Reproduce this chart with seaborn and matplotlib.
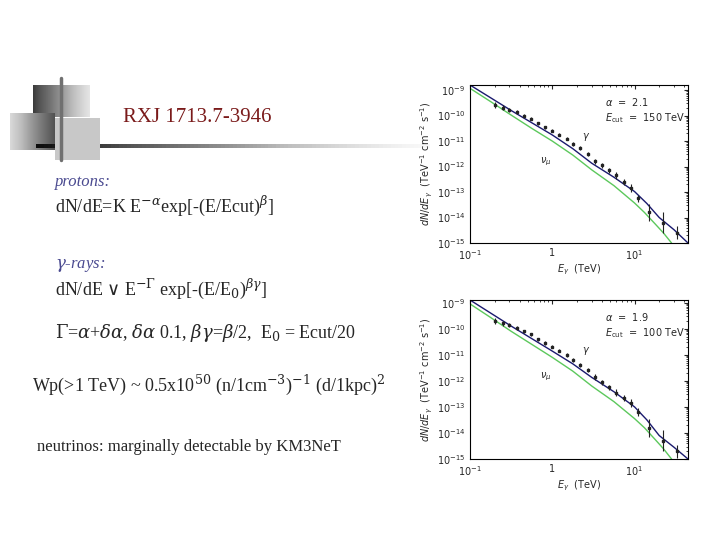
import numpy as np
import pandas as pd
import seaborn as sns
import matplotlib.pyplot as plt
from matplotlib.patches import Rectangle

# --- dane: krzywe (log10 E, log10 dN/dE) ---
curve_logx = [-1.0, -0.75, -0.5, -0.25, 0.0, 0.25, 0.48, 0.75, 1.0, 1.15, 1.3, 1.48, 1.65]
gam1 = [-8.8, -9.3, -9.8, -10.28, -10.76, -11.3, -11.87, -12.42, -12.98, -13.45, -14.0, -14.48, -15.0]
nu1_logx = [-1.0, -0.75, -0.5, -0.25, 0.0, 0.25, 0.48, 0.75, 1.0, 1.12, 1.25, 1.35, 1.45]
nu1 = [-8.93, -9.45, -9.98, -10.5, -11.0, -11.55, -12.13, -12.75, -13.43, -13.8, -14.25, -14.6, -15.0]
gam2 = [-8.9, -9.4, -9.9, -10.38, -10.86, -11.35, -11.87, -12.42, -13.0, -13.5, -14.1, -14.55, -15.0]
nu2 = [-9.05, -9.57, -10.1, -10.6, -11.1, -11.63, -12.2, -12.8, -13.45, -13.8, -14.25, -14.6, -15.0]

# punkty pomiarowe
pts_x = [0.2, 0.25, 0.3, 0.37, 0.45, 0.55, 0.67, 0.82, 1.0, 1.2, 1.5, 1.8,
         2.2, 2.7, 3.3, 4.0, 4.9, 6.0, 7.4, 9.0, 11, 15, 22, 33]
pts_y1 = [-9.6, -9.7, -9.78, -9.87, -10.0, -10.12, -10.3, -10.45, -10.6, -10.75,
          -10.9, -11.12, -11.28, -11.5, -11.8, -11.95, -12.15, -12.35, -12.6,
          -12.85, -13.25, -13.8, -14.2, -14.6]
pts_y2 = [-9.7, -9.8, -9.85, -9.98, -10.1, -10.22, -10.4, -10.55, -10.7, -10.85,
          -11.0, -11.2, -11.38, -11.6, -11.85, -12.05, -12.25, -12.45, -12.65,
          -12.85, -13.2, -13.8, -14.3, -14.7]
pts_err = [0.12, 0.1, 0.08, 0.07, 0.06, 0.06, 0.06, 0.06, 0.06, 0.06, 0.07, 0.07,
           0.08, 0.08, 0.1, 0.1, 0.1, 0.12, 0.12, 0.15, 0.15, 0.35, 0.4, 0.25]

panels = [
    dict(gam=gam1, nu=nu1, pts=pts_y1, alpha="2.1", ecut="150", top=-8.8,
         rect=[470 / 720, 1 - 243 / 540, 218 / 720, 158 / 540]),
    dict(gam=gam2, nu=nu2, pts=pts_y2, alpha="1.9", ecut="100", top=-8.9,
         rect=[470 / 720, 1 - 459 / 540, 218 / 720, 159 / 540]),
]

sns.set_style("white")
plt.rcParams["font.family"] = ["Liberation Serif", "DejaVu Serif"]
plt.rcParams["mathtext.fontset"] = "dejavuserif"

fig = plt.figure(figsize=(7.2, 5.4), dpi=100)

# --- tło / dekoracja w pikselach ---
bg = fig.add_axes([0, 0, 1, 1])
bg.set_xlim(0, 720)
bg.set_ylim(540, 0)
bg.axis("off")
grad = np.linspace(0, 1, 100).reshape(1, -1)
bg.imshow(grad, cmap="Greys_r", extent=[33, 90, 117, 85], vmin=-0.3, vmax=1.3, aspect="auto")
bg.imshow(grad, cmap="Greys", extent=[10, 55, 150, 113], vmin=-0.5, vmax=1.5, aspect="auto")
bg.add_patch(Rectangle((55, 118), 45, 42, color="#c8c8c8", lw=0))
bg.imshow(grad[:, ::-1], cmap="Greys", extent=[36, 430, 148, 144], vmin=-0.05, vmax=1.05, aspect="auto")
bg.plot([61, 61], [78, 160], color="#707070", lw=2.5)
bg.set_xlim(0, 720)
bg.set_ylim(540, 0)

red = "#7a1a1a"
blue = "#4a4a90"
bg.text(123, 118, "RXJ 1713.7-3946", color=red, fontsize=15, va="center")
bg.text(55, 182, "protons:", color=blue, style="italic", fontsize=12, va="center")
bg.text(55, 206, r"dN/dE=K E$^{-\alpha}$exp[-(E/Ecut)$^{\beta}$]", fontsize=13, va="center")
bg.text(55, 265, r"$\gamma$-rays:", color=blue, style="italic", fontsize=12, va="center")
bg.text(55, 289, r"dN/dE $\vee$ E$^{-\Gamma}$ exp[-(E/E$_0$)$^{\beta\gamma}$]", fontsize=13, va="center")
bg.text(55, 333, r"$\Gamma$=$\alpha$+$\delta\alpha$, $\delta\alpha$ 0.1, $\beta\gamma$=$\beta$/2,  E$_0$ = Ecut/20",
        fontsize=13, va="center")
bg.text(32, 385, r"Wp(>1 TeV) ~ 0.5x10$^{50}$ (n/1cm$^{-3}$)$^{-1}$ (d/1kpc)$^{2}$", fontsize=13, va="center")
bg.text(37, 447, "neutrinos: marginally detectable by KM3NeT", fontsize=12, va="center")

# --- wykresy widm ---
plt.rcParams["mathtext.fontset"] = "dejavusans"
plt.rcParams["font.family"] = ["DejaVu Sans"]
for p in panels:
    ax = fig.add_axes(p["rect"])
    dg = pd.DataFrame({"E": 10 ** np.array(curve_logx), "F": 10 ** np.array(p["gam"])})
    dn = pd.DataFrame({"E": 10 ** np.array(nu1_logx), "F": 10 ** np.array(p["nu"])})
    sns.lineplot(data=dg, x="E", y="F", color="#1a1a6e", lw=1, ax=ax)
    sns.lineplot(data=dn, x="E", y="F", color="#5cc85c", lw=1, ax=ax)
    y = np.array(p["pts"])
    e = np.array(pts_err)
    ax.errorbar(pts_x, 10 ** y, yerr=[10 ** y - 10 ** (y - e), 10 ** (y + e) - 10 ** y],
                fmt="s", ms=1.5, color="#222222", elinewidth=0.8, capsize=0)
    ax.set_xscale("log")
    ax.set_yscale("log")
    ax.set_xlim(0.1, 10 ** 1.65)
    ax.set_ylim(1e-15, 10 ** p["top"])
    ax.set_yticks([10.0 ** k for k in range(-15, -8)])
    ax.set_xticks([0.1, 1, 10])
    ax.set_xticklabels([r"$10^{-1}$", "1", r"$10^{1}$"])
    ax.tick_params(which="both", direction="in", top=True, right=True, labelsize=7)
    ax.tick_params(which="major", length=3)
    ax.tick_params(which="minor", length=1.5)
    ax.set_xlabel(r"$E_\gamma$  (TeV)", fontsize=7, labelpad=1)
    ax.set_ylabel(r"$dN/dE_\gamma$  (TeV$^{-1}$ cm$^{-2}$ s$^{-1}$)", fontsize=7, labelpad=1)
    for s in ax.spines.values():
        s.set_linewidth(0.8)
        s.set_color("black")
    ax.text(2.3, 1.2e-11, r"$\gamma$", fontsize=7)
    ax.text(0.7, 1.3e-12, r"$\nu_\mu$", fontsize=7)
    ax.text(0.62, 0.87, r"$\alpha$  =  " + p["alpha"], transform=ax.transAxes, fontsize=7)
    ax.text(0.62, 0.77, r"$E_{\rm cut}$  =  " + p["ecut"] + " TeV", transform=ax.transAxes,
            fontsize=7)

plt.savefig("out.png", dpi=100)
